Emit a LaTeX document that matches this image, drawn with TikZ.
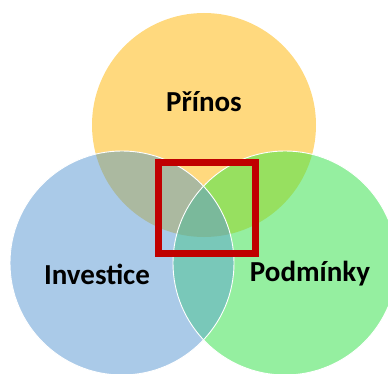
\documentclass[tikz,border=0pt]{standalone}
\usepackage{fontspec}
\setmainfont{Carlito}
\definecolor{cyel}{HTML}{FFD97E}
\definecolor{cblu}{HTML}{AACAE8}
\definecolor{cgrn}{HTML}{95EFA0}
\definecolor{cyb}{HTML}{ABB9A0}
\definecolor{cyg}{HTML}{97E060}
\definecolor{cbg}{HTML}{79C8B9}
\definecolor{cybg}{HTML}{7AB99B}
\definecolor{cred}{HTML}{C00000}
\tikzset{
  lbl/.style={font=\fontsize{29}{32}\selectfont\bfseries, text=black, inner sep=0pt},
  circedge/.style={draw=white, line width=0.9pt},
  redbox/.style={draw=cred, line width=7pt}
}
\begin{document}
\begin{tikzpicture}[x=1pt,y=-1pt]
\useasboundingbox (0,0) rectangle (388,374);
\clip (0,0) rectangle (388,374);
\def\R{112}
\coordinate (cy) at (204,125);
\coordinate (cb) at (122,263);
\coordinate (cg) at (285,263);
% base circles
\fill[cyel] (cy) circle (\R);
\fill[cblu] (cb) circle (\R);
\fill[cgrn] (cg) circle (\R);
% pairwise overlaps
\begin{scope}\clip (cy) circle (\R); \fill[cyb] (cb) circle (\R); \end{scope}
\begin{scope}\clip (cy) circle (\R); \fill[cyg] (cg) circle (\R); \end{scope}
\begin{scope}\clip (cb) circle (\R); \fill[cbg] (cg) circle (\R); \end{scope}
% triple overlap
\begin{scope}\clip (cy) circle (\R); \clip (cb) circle (\R); \fill[cybg] (cg) circle (\R); \end{scope}
% outlines
\draw[circedge] (cb) circle (\R);
\draw[circedge] (cg) circle (\R);
% labels
\node[lbl] (prinos) at (204,102) {Přínos};
\node[lbl] (invest) at (97,274) {Investice};
\node[lbl] (podm) at (310,274) {Podmínky};
% red square
\draw[redbox] (158.5,162.5) rectangle (255.5,253.5);
\end{tikzpicture}
\end{document}
